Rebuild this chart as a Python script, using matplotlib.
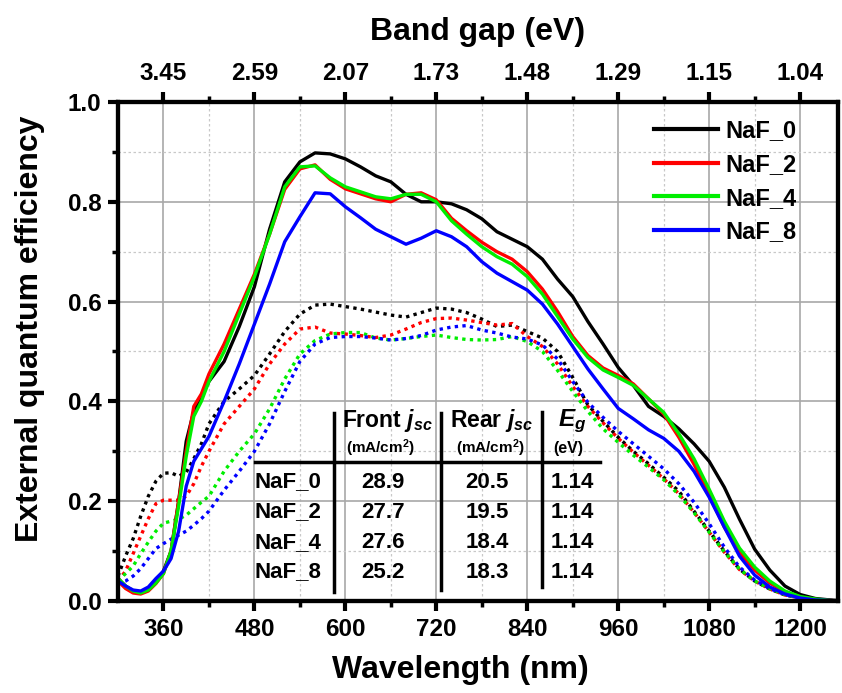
import matplotlib
matplotlib.use("Agg")
import matplotlib.pyplot as plt
from matplotlib.ticker import MultipleLocator, FixedLocator

plt.rcParams['font.family'] = ['Liberation Sans', 'DejaVu Sans']
plt.rcParams['font.weight'] = 'bold'
plt.rcParams['axes.labelweight'] = 'bold'
plt.rcParams['mathtext.fontset'] = 'custom'
plt.rcParams['mathtext.rm'] = 'Liberation Sans:bold'
plt.rcParams['mathtext.it'] = 'Liberation Sans:italic:bold'
plt.rcParams['mathtext.bf'] = 'Liberation Sans:bold'

# wavelength grid (nm)
wl = [300, 310, 320, 330, 340, 350, 360, 370, 380, 390, 400, 410, 420, 440, 460, 480,
      500, 520, 540, 560, 580, 600, 620, 640, 660, 680, 700, 720, 740, 760, 780, 800,
      820, 840, 860, 880, 900, 920, 940, 960, 980, 1000, 1020, 1040, 1060, 1080, 1100,
      1120, 1140, 1160, 1180, 1200, 1220, 1240, 1250]

# front-side EQE (solid)
front_0 = [.045, .03, .02, .018, .025, .04, .06, .10, .20, .32, .38, .41, .44, .48, .55, .63,
           .745, .84, .88, .898, .896, .886, .87, .852, .84, .815, .80, .80, .796, .784, .766, .74,
           .725, .71, .685, .645, .61, .56, .515, .468, .432, .39, .37, .345, .315, .28, .228,
           .164, .104, .062, .03, .013, .005, .002, .001]
front_2 = [.04, .025, .016, .014, .02, .035, .055, .10, .20, .30, .39, .415, .455, .515, .585, .655,
           .735, .825, .866, .874, .845, .826, .816, .806, .80, .815, .818, .804, .767, .742, .719, .70,
           .685, .66, .625, .58, .53, .492, .467, .452, .435, .405, .375, .328, .274, .212, .148,
           .098, .062, .036, .018, .008, .003, .001, 0]
front_4 = [.045, .03, .02, .016, .022, .036, .055, .10, .19, .29, .37, .40, .44, .50, .575, .65,
           .735, .83, .87, .872, .848, .83, .82, .81, .806, .815, .815, .80, .762, .735, .71, .69,
           .675, .65, .615, .57, .525, .488, .463, .448, .432, .405, .378, .335, .285, .224, .16,
           .106, .068, .04, .02, .009, .004, .001, 0]
front_8 = [.04, .03, .022, .02, .028, .045, .06, .085, .14, .23, .28, .305, .33, .40, .475, .555,
           .635, .72, .77, .818, .816, .79, .768, .745, .73, .715, .727, .742, .73, .71, .68, .657,
           .64, .623, .595, .555, .51, .465, .425, .386, .365, .343, .326, .30, .26, .208, .148,
           .09, .052, .028, .014, .006, .002, .001, 0]

# rear-side EQE (dotted)
rear_0 = [.05, .09, .125, .17, .21, .24, .256, .257, .25, .258, .285, .315, .355, .40, .425, .452,
          .495, .54, .575, .593, .595, .59, .585, .579, .573, .569, .578, .587, .585, .578, .565, .55,
          .553, .54, .527, .50, .448, .393, .36, .328, .30, .275, .248, .22, .18, .14, .10,
          .064, .04, .024, .012, .006, .002, .001, 0]
rear_2 = [.04, .06, .095, .13, .165, .195, .202, .202, .202, .21, .235, .27, .30, .355, .39, .425,
          .475, .515, .545, .549, .537, .535, .532, .528, .533, .545, .558, .566, .567, .563, .558, .553,
          .556, .53, .51, .475, .43, .39, .357, .326, .298, .272, .245, .215, .178, .138, .098,
          .063, .04, .024, .012, .006, .002, .001, 0]
rear_4 = [.04, .055, .07, .095, .118, .14, .156, .16, .164, .172, .185, .198, .21, .26, .30, .335,
          .385, .445, .495, .522, .535, .538, .538, .527, .523, .526, .53, .533, .528, .524, .523, .524,
          .53, .52, .50, .462, .42, .38, .345, .318, .292, .268, .243, .213, .177, .138, .098,
          .064, .04, .025, .013, .006, .003, .001, 0]
rear_8 = [.035, .04, .05, .065, .085, .105, .115, .124, .132, .14, .152, .165, .18, .222, .26, .30,
          .355, .42, .48, .515, .528, .53, .53, .527, .523, .526, .532, .543, .549, .552, .543, .537,
          .529, .525, .513, .485, .44, .398, .368, .34, .315, .29, .265, .235, .198, .155, .108,
          .068, .042, .025, .013, .006, .003, .001, 0]

samples = ['NaF_0', 'NaF_2', 'NaF_4', 'NaF_8']
colors = ['black', '#ff0000', '#00ee00', '#0000ff']
front_jsc = ['28.9', '27.7', '27.6', '25.2']
rear_jsc = ['20.5', '19.5', '18.4', '18.3']
eg = ['1.14', '1.14', '1.14', '1.14']

wl_ticks = [360, 480, 600, 720, 840, 960, 1080, 1200]
gap_labels = ['3.45', '2.59', '2.07', '1.73', '1.48', '1.29', '1.15', '1.04']

fig = plt.figure(figsize=(8.42, 6.93), dpi=100)
ax = fig.add_axes([118/842, 1-601/693, 720/842, 499/693])

fronts = [front_0, front_2, front_4, front_8]
rears = [rear_0, rear_2, rear_4, rear_8]
for s, c, f, r in zip(samples, colors, fronts, rears):
    ax.plot(wl, r, color=c, lw=2.4, ls=(0, (1, 1.3)), zorder=3)
for s, c, f in zip(samples, colors, fronts):
    ax.plot(wl, f, color=c, lw=2.4, label=s, zorder=4)

ax.set_xlim(300, 1250)
ax.set_ylim(0, 1.0)
ax.xaxis.set_major_locator(FixedLocator(wl_ticks))
ax.xaxis.set_minor_locator(FixedLocator([420, 540, 660, 780, 900, 1020, 1140]))
ax.yaxis.set_major_locator(MultipleLocator(0.2))
ax.yaxis.set_minor_locator(MultipleLocator(0.1))
ax.yaxis.set_major_formatter(matplotlib.ticker.FormatStrFormatter('%.1f'))
ax.grid(which='major', color='#a8a8a8', lw=1.2, ls='-', zorder=0)
ax.grid(which='minor', color='#c8c8c8', lw=0.9, ls=(0, (2, 2)), zorder=0)
ax.set_axisbelow(True)
for sp in ax.spines.values():
    sp.set_linewidth(3)
ax.tick_params(which='major', direction='out', length=7, width=3, labelsize=17.5, pad=5)
ax.tick_params(which='minor', direction='out', length=4, width=2.5)
ax.set_xlabel('Wavelength (nm)', fontsize=23, fontweight='bold')
ax.set_ylabel('External quantum efficiency', fontsize=23, fontweight='bold')
ax.xaxis.set_label_coords(0.475, -0.108)
ax.yaxis.set_label_coords(-0.101, 0.545)

ax2 = ax.twiny()
ax2.set_xlim(ax.get_xlim())
ax2.xaxis.set_major_locator(FixedLocator(wl_ticks))
ax2.set_xticklabels(gap_labels)
ax2.xaxis.set_minor_locator(FixedLocator([420, 540, 660, 780, 900, 1020, 1140]))
ax2.tick_params(which='major', direction='out', length=7, width=3, labelsize=17.5, pad=5)
ax2.tick_params(which='minor', direction='out', length=4, width=2.5)
for sp in ax2.spines.values():
    sp.set_linewidth(3)
ax2.set_xlabel('Band gap (eV)', fontsize=23, fontweight='bold', labelpad=16)

leg = ax.legend(loc='upper left', bbox_to_anchor=(0.745, 0.965), frameon=False,
                fontsize=17, handlelength=2.7, handletextpad=0.3, labelspacing=0.45,
                borderpad=0, borderaxespad=0)
for h in leg.get_lines():
    h.set_linewidth(3)

# inset table (axes fraction coords from pixel positions)
def fx(px):
    return (px - 118) / 720

def fy(py):
    return (601 - py) / 499

T = ax.transAxes
ax.plot([fx(255), fx(600)], [fy(462), fy(462)], color='black', lw=2.5, transform=T, zorder=5)
for xp, y0, y1 in [(334, 413, 592), (441, 413, 590), (542, 412, 587)]:
    ax.plot([fx(xp), fx(xp)], [fy(y0), fy(y1)], color='black', lw=2.5, transform=T, zorder=5)

ax.text(fx(387), fy(421), 'Front $j_{sc}$', transform=T, ha='center', va='center', fontsize=16.5)
ax.text(fx(492), fy(421), 'Rear $j_{sc}$', transform=T, ha='center', va='center', fontsize=16.5)
ax.text(fx(572), fy(421), '$E_g$', transform=T, ha='center', va='center', fontsize=17.5)
ax.text(fx(380), fy(448), '(mA/cm$^2$)', transform=T, ha='center', va='center', fontsize=11)
ax.text(fx(490), fy(448), '(mA/cm$^2$)', transform=T, ha='center', va='center', fontsize=11)
ax.text(fx(568), fy(448), '(eV)', transform=T, ha='center', va='center', fontsize=11.5)

row_y = [482, 512, 543, 572]
for yp, s, a, b, e in zip(row_y, samples, front_jsc, rear_jsc, eg):
    ax.text(fx(255), fy(yp), s, transform=T, ha='left', va='center', fontsize=16)
    ax.text(fx(383), fy(yp), a, transform=T, ha='center', va='center', fontsize=16)
    ax.text(fx(487), fy(yp), b, transform=T, ha='center', va='center', fontsize=16)
    ax.text(fx(572), fy(yp), e, transform=T, ha='center', va='center', fontsize=16)

fig.savefig('out.png', dpi=100)
